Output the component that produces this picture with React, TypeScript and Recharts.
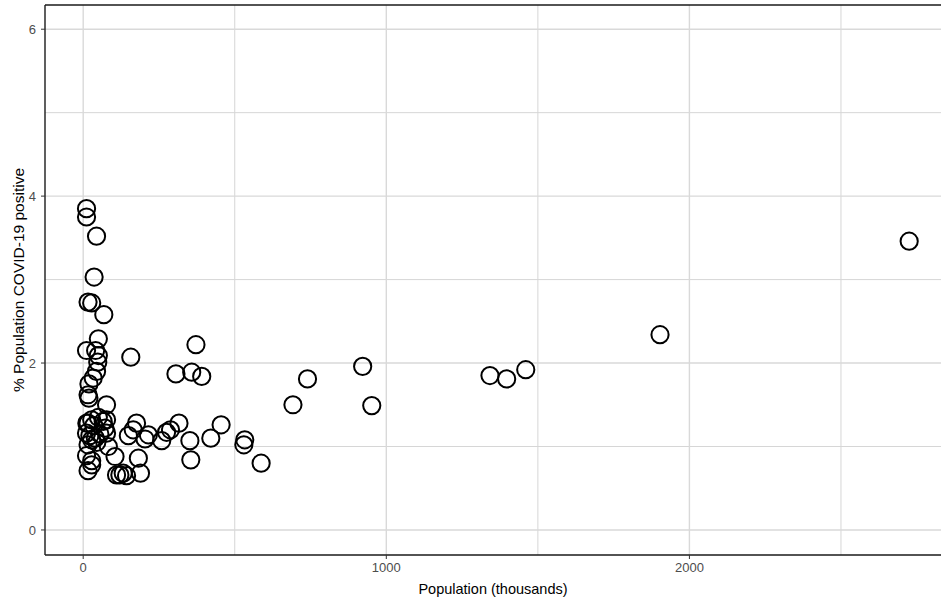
import React from 'react';
import { ScatterChart, Scatter, XAxis, YAxis, ReferenceLine } from 'recharts';

// population in thousands, one entry per area
const population = [
  11, 11, 44, 36, 16, 28, 68, 50, 11, 41, 50, 48, 44, 33, 19, 16, 19, 157, 372, 306,
  358, 391, 740, 692, 922, 952, 1342, 1397, 1460, 1903, 2725, 77, 66, 77, 16, 28, 72, 11,
  22, 28, 16, 55, 77, 83, 105, 11, 28, 16, 28, 165, 176, 149, 204, 215, 259, 275, 288, 316,
  352, 355, 421, 455, 533, 530, 587, 182, 189, 110, 132, 143, 121, 40, 45, 35, 50, 12,
];

// share of the population that tested positive, %
const positive = [
  3.85, 3.75, 3.52, 3.03, 2.73, 2.72, 2.58, 2.29, 2.15, 2.15, 2.09, 2.01, 1.9, 1.82, 1.75, 1.62,
  1.58, 2.07, 2.22, 1.87, 1.89, 1.84, 1.81, 1.5, 1.96, 1.49, 1.85, 1.81, 1.92, 2.34, 3.46, 1.5,
  1.3, 1.32, 1.28, 1.32, 1.22, 1.16, 1.13, 1.08, 1.02, 1.15, 1.16, 1.0, 0.88, 0.89, 0.83, 0.71,
  0.78, 1.2, 1.28, 1.13, 1.09, 1.14, 1.07, 1.17, 1.2, 1.28, 1.07, 0.84, 1.1, 1.26, 1.08, 1.02,
  0.8, 0.86, 0.68, 0.66, 0.68, 0.65, 0.66, 1.1, 1.05, 1.25, 1.35, 1.28,
];

const xTicks = [0, 1000, 2000];
const yTicks = [0, 2, 4, 6];
const xMinor = [500, 1500, 2500];
const yMinor = [1, 3, 5];

const points = population.map((p, i) => ({ pop: p, pct: positive[i] }));

const X_DOMAIN: [number, number] = [-126, 2830];
const Y_DOMAIN: [number, number] = [-0.3, 6.29];

const OpenCircle = (props: any) => {
  const { cx, cy } = props;
  if (cx == null || cy == null) return null;
  return <circle cx={cx} cy={cy} r={8.6} fill="none" stroke="#000" strokeWidth={2} />;
};

const tickStyle = { fill: '#4d4d4d', fontSize: 13 };

export default function App() {
  return (
    <div style={{ position: 'absolute', left: 0, top: 0, background: '#fff' }}>
      <ScatterChart
        width={941}
        height={600}
        margin={{ top: 5, right: 0, bottom: 0, left: 0 }}
        style={{ fontFamily: '"Liberation Sans", Arial, sans-serif' }}
      >
        <XAxis
          type="number"
          dataKey="pop"
          domain={X_DOMAIN}
          ticks={xTicks}
          allowDataOverflow
          height={45}
          tickSize={4}
          tickMargin={4}
          tick={tickStyle}
          stroke="#333"
          axisLine={{ stroke: '#1a1a1a', strokeWidth: 1.4 }}
          label={{ value: 'Population (thousands)', position: 'insideBottom', offset: 6, fill: '#000', fontSize: 14.5 }}
        />
        <YAxis
          type="number"
          dataKey="pct"
          domain={Y_DOMAIN}
          ticks={yTicks}
          allowDataOverflow
          width={45}
          tickSize={4}
          tickMargin={5}
          tick={tickStyle}
          stroke="#333"
          axisLine={{ stroke: '#1a1a1a', strokeWidth: 1.4 }}
          label={{
            value: '% Population COVID-19 positive',
            angle: -90,
            position: 'insideLeft',
            offset: 18,
            fill: '#000',
            fontSize: 15.5,
            style: { textAnchor: 'middle' },
          }}
        />
        {xMinor.map((v) => (
          <ReferenceLine key={`xm-${v}`} x={v} stroke="#d6d6d6" strokeWidth={1} />
        ))}
        {yMinor.map((v) => (
          <ReferenceLine key={`ym-${v}`} y={v} stroke="#d6d6d6" strokeWidth={1} />
        ))}
        {xTicks.map((v) => (
          <ReferenceLine key={`x-${v}`} x={v} stroke="#d9d9d9" strokeWidth={1.4} />
        ))}
        {yTicks.map((v) => (
          <ReferenceLine key={`y-${v}`} y={v} stroke="#d9d9d9" strokeWidth={1.4} />
        ))}
        <ReferenceLine y={Y_DOMAIN[1]} stroke="#1a1a1a" strokeWidth={1.4} />
        <Scatter data={points} shape={OpenCircle} isAnimationActive={false} />
      </ScatterChart>
    </div>
  );
}
